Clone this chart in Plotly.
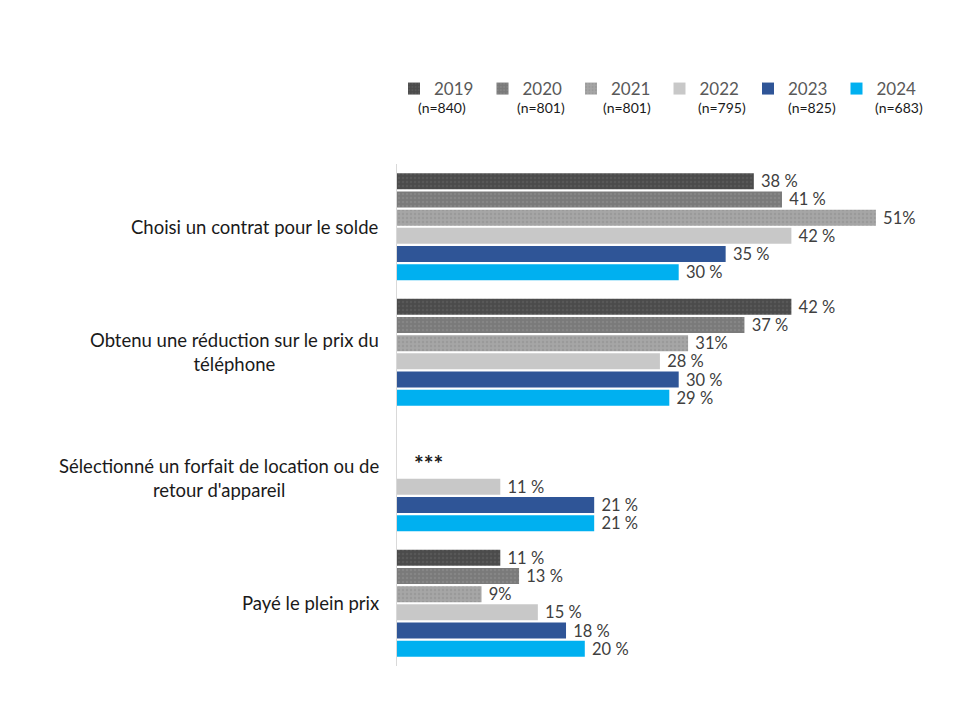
import plotly.graph_objects as go

categories = [
    "Choisi un contrat pour le solde",
    "Obtenu une réduction sur le prix du<br>téléphone",
    "Sélectionné un forfait de location ou de<br>retour d'appareil",
    "Payé le plein prix",
]
years = ["2019", "2020", "2021", "2022", "2023", "2024"]
sample_sizes = ["(n=840)", "(n=801)", "(n=801)", "(n=795)", "(n=825)", "(n=683)"]
values = {
    "2019": [38, 42, None, 11],
    "2020": [41, 37, None, 13],
    "2021": [51, 31, None, 9],
    "2022": [42, 28, 11, 15],
    "2023": [35, 30, 21, 18],
    "2024": [30, 29, 21, 20],
}
label_suffix = {"2019": " %", "2020": " %", "2021": "%", "2022": " %", "2023": " %", "2024": " %"}
missing_note = "***"

colors = {
    "2019": ("#4b4b4b", "#585858"),
    "2020": ("#7a7a7a", "#868686"),
    "2021": ("#a6a6a6", "#9a9a9a"),
    "2022": ("#c8c8c8", None),
    "2023": ("#2f5597", None),
    "2024": ("#00b0f0", None),
}

FONT = "Lato, 'Open Sans', sans-serif"
OFF = 8  # page body margin offset

fig = go.Figure()
for yr in years:
    vals = values[yr]
    texts = [("" if v is None else "\u00a0" + f"{v}{label_suffix[yr]}") for v in vals]
    base, dots = colors[yr]
    marker = dict(color=base, line=dict(width=0))
    if dots:
        marker["pattern"] = dict(shape=".", size=4, solidity=0.3,
                                 fgcolor=dots, bgcolor=base, fillmode="replace")
    fig.add_trace(go.Bar(
        y=categories, x=vals, name=yr, orientation="h",
        marker=marker, text=texts, textposition="outside",
        constraintext="none",
        textfont=dict(size=16.5, color="#404040", family=FONT),
        cliponaxis=False,
    ))

FW, FH = 952, 712
L, T = 397 - OFF, 164 - OFF
R = FW - (930 - OFF)
B = FH - (666 - OFF)
W = FW - L - R
H = FH - T - B
xmax = W / 9.39

def px_x(sx):
    return (sx - OFF - L) / W

def px_y(sy):
    return 1 + (T - (sy - OFF)) / H

for cat in categories:
    fig.add_annotation(x=0, xref="paper", y=cat, yref="y", xanchor="right",
                       xshift=-16, text=cat, showarrow=False, align="center",
                       font=dict(size=18.5, color="#1a1a1a", family=FONT))

fig.add_annotation(x=3.4, xref="x", y=categories[2], yref="y", yshift=15,
                   text="<b>" + missing_note + "</b>", showarrow=False,
                   font=dict(size=23, color="#1a1a1a", family=FONT))

n_px = [442, 541, 627, 722, 812, 899]
for n, sx in zip(sample_sizes, n_px):
    fig.add_annotation(x=px_x(sx), xref="paper", y=px_y(107), yref="paper",
                       text=n, showarrow=False, xanchor="center", yanchor="middle",
                       font=dict(size=14, color="#1a1a1a", family=FONT))

fig.update_layout(
    width=FW, height=FH,
    margin=dict(l=L, r=R, t=T, b=B, autoexpand=False),
    paper_bgcolor="white", plot_bgcolor="white",
    barmode="group", bargap=0.13, bargroupgap=0.12,
    showlegend=True,
    legend=dict(orientation="h", x=px_x(394), xanchor="left",
                y=px_y(89), yanchor="middle",
                font=dict(size=17, color="#595959", family=FONT),
                entrywidth=43.5, entrywidthmode="pixels",
                itemwidth=30, traceorder="normal", bgcolor="rgba(0,0,0,0)"),
    font=dict(family=FONT),
    xaxis=dict(range=[0, xmax], visible=False, fixedrange=True),
    yaxis=dict(type="category", autorange="reversed", showticklabels=False,
               showline=True, linecolor="#d9d9d9", linewidth=1,
               showgrid=False, zeroline=False, ticks=""),
)

fig.write_html("out.html")
